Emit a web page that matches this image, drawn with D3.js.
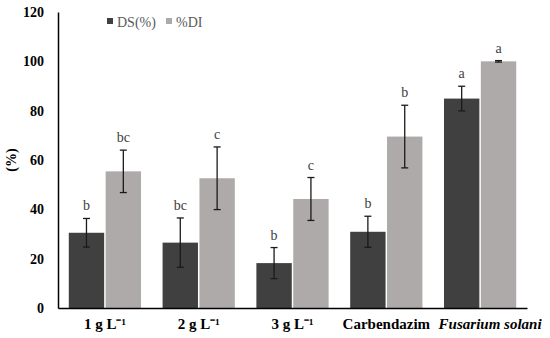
<!DOCTYPE html>
<html>
<head>
<meta charset="utf-8">
<script src="https://cdn.jsdelivr.net/npm/d3@7"></script>
<style>
  body { margin: 0; background: #fff; }
  text { font-family: "Liberation Serif", "DejaVu Serif", serif; }
</style>
</head>
<body>
<div id="chart"></div>
<script>
var categories = ["1 g L\u207B\u00B9", "2 g L\u207B\u00B9", "3 g L\u207B\u00B9", "Carbendazim", "Fusarium solani"];
var series_names = ["DS(%)", "%DI"];
var ds_values = [30.5, 26.5, 18.2, 30.9, 84.9];
var ds_errors = [5.8, 10.0, 6.3, 6.3, 5.0];
var ds_letters = ["b", "bc", "b", "b", "a"];
var di_values = [55.4, 52.6, 44.2, 69.5, 100];
var di_errors = [8.6, 12.7, 8.7, 12.7, 0.3];
var di_letters = ["bc", "c", "c", "b", "a"];
var y_ticks = [0, 20, 40, 60, 80, 100, 120];

var width = 550, height = 338;
var margin = {left: 58, right: 23, top: 12, bottom: 30};
var colors = ["#404040", "#aeaaaa"];

var svg = d3.select("#chart").append("svg")
    .attr("width", width)
    .attr("height", height);

var x = d3.scaleBand()
    .domain(categories)
    .range([margin.left, width - margin.right])
    .paddingInner(0.23)
    .paddingOuter(0.115);

var x1 = d3.scaleBand()
    .domain(series_names)
    .range([0, x.bandwidth()])
    .paddingInner(0.04);

var y = d3.scaleLinear()
    .domain([0, 120])
    .range([height - margin.bottom, margin.top]);

// rows of data built from the arrays above
var rows = categories.map(function(c, i) {
    return [
        {cat: c, s: series_names[0], v: ds_values[i], e: ds_errors[i], l: ds_letters[i], c: colors[0]},
        {cat: c, s: series_names[1], v: di_values[i], e: di_errors[i], l: di_letters[i], c: colors[1]}
    ];
});

var groups = svg.append("g").selectAll("g")
    .data(rows)
    .enter().append("g")
    .attr("transform", function(d, i) { return "translate(" + x(categories[i]) + ",0)"; });

groups.selectAll("rect")
    .data(function(d) { return d; })
    .enter().append("rect")
    .attr("x", function(d) { return x1(d.s); })
    .attr("y", function(d) { return y(d.v); })
    .attr("width", x1.bandwidth())
    .attr("height", function(d) { return y(0) - y(d.v); })
    .style("fill", function(d) { return d.c; });

// error bars
var err = groups.selectAll("g.err")
    .data(function(d) { return d; })
    .enter().append("g")
    .attr("class", "err")
    .attr("transform", function(d) { return "translate(" + (x1(d.s) + x1.bandwidth() / 2) + ",0)"; });

err.append("line")
    .attr("x1", 0).attr("x2", 0)
    .attr("y1", function(d) { return y(d.v + d.e); })
    .attr("y2", function(d) { return y(d.v - d.e); })
    .style("stroke", "#1a1a1a").style("stroke-width", 1.3);

err.append("line")
    .attr("x1", -3.5).attr("x2", 3.5)
    .attr("y1", function(d) { return y(d.v + d.e); })
    .attr("y2", function(d) { return y(d.v + d.e); })
    .style("stroke", "#1a1a1a").style("stroke-width", 1.3);

err.append("line")
    .attr("x1", -3.5).attr("x2", 3.5)
    .attr("y1", function(d) { return y(d.v - d.e); })
    .attr("y2", function(d) { return y(d.v - d.e); })
    .style("stroke", "#1a1a1a").style("stroke-width", 1.3);

err.append("text")
    .attr("x", 0)
    .attr("y", function(d) { return y(d.v + d.e) - 8; })
    .attr("text-anchor", "middle")
    .style("font-size", "14px")
    .style("fill", "#404040")
    .text(function(d) { return d.l; });

// y axis
var yAxis = svg.append("g")
    .attr("transform", "translate(" + margin.left + ",0)")
    .call(d3.axisLeft(y).tickValues(y_ticks).tickSize(0).tickPadding(14));
yAxis.select(".domain").style("stroke", "#000").style("stroke-width", 1.5);
yAxis.selectAll("text")
    .style("font-size", "14px")
    .style("font-weight", "bold")
    .style("fill", "#000")
    .style("font-family", "'Liberation Serif', serif");

// x axis
var xAxis = svg.append("g")
    .attr("transform", "translate(0," + y(0) + ")")
    .call(d3.axisBottom(x).tickSize(0).tickPadding(10).tickSizeOuter(0));
xAxis.select(".domain").style("stroke", "#000").style("stroke-width", 1.5);
xAxis.selectAll("text")
    .style("font-size", "15px")
    .style("font-weight", "bold")
    .style("fill", "#000")
    .style("font-family", "'Liberation Serif', serif")
    .style("font-style", function(d) { return d === "Fusarium solani" ? "italic" : "normal"; })
    .attr("dx", function(d) { return d === "Fusarium solani" ? 10 : 0; })
    .attr("dy", "0.75em");

// y axis title
svg.append("text")
    .attr("transform", "translate(16," + (y(60)) + ") rotate(-90)")
    .attr("text-anchor", "middle")
    .style("font-size", "14px")
    .style("font-weight", "bold")
    .text("(%)");

// legend
var legend = svg.append("g").selectAll("g")
    .data(series_names)
    .enter().append("g")
    .attr("transform", function(d, i) { return "translate(" + (107 + i * 59) + ",22)"; });

legend.append("rect")
    .attr("x", 0).attr("y", -4)
    .attr("width", 6).attr("height", 6)
    .style("fill", function(d, i) { return colors[i]; });

legend.append("text")
    .attr("x", 10).attr("y", 0)
    .attr("dy", "0.35em")
    .style("font-size", "14px")
    .style("fill", "#595959")
    .text(function(d) { return d; });
</script>
</body>
</html>
